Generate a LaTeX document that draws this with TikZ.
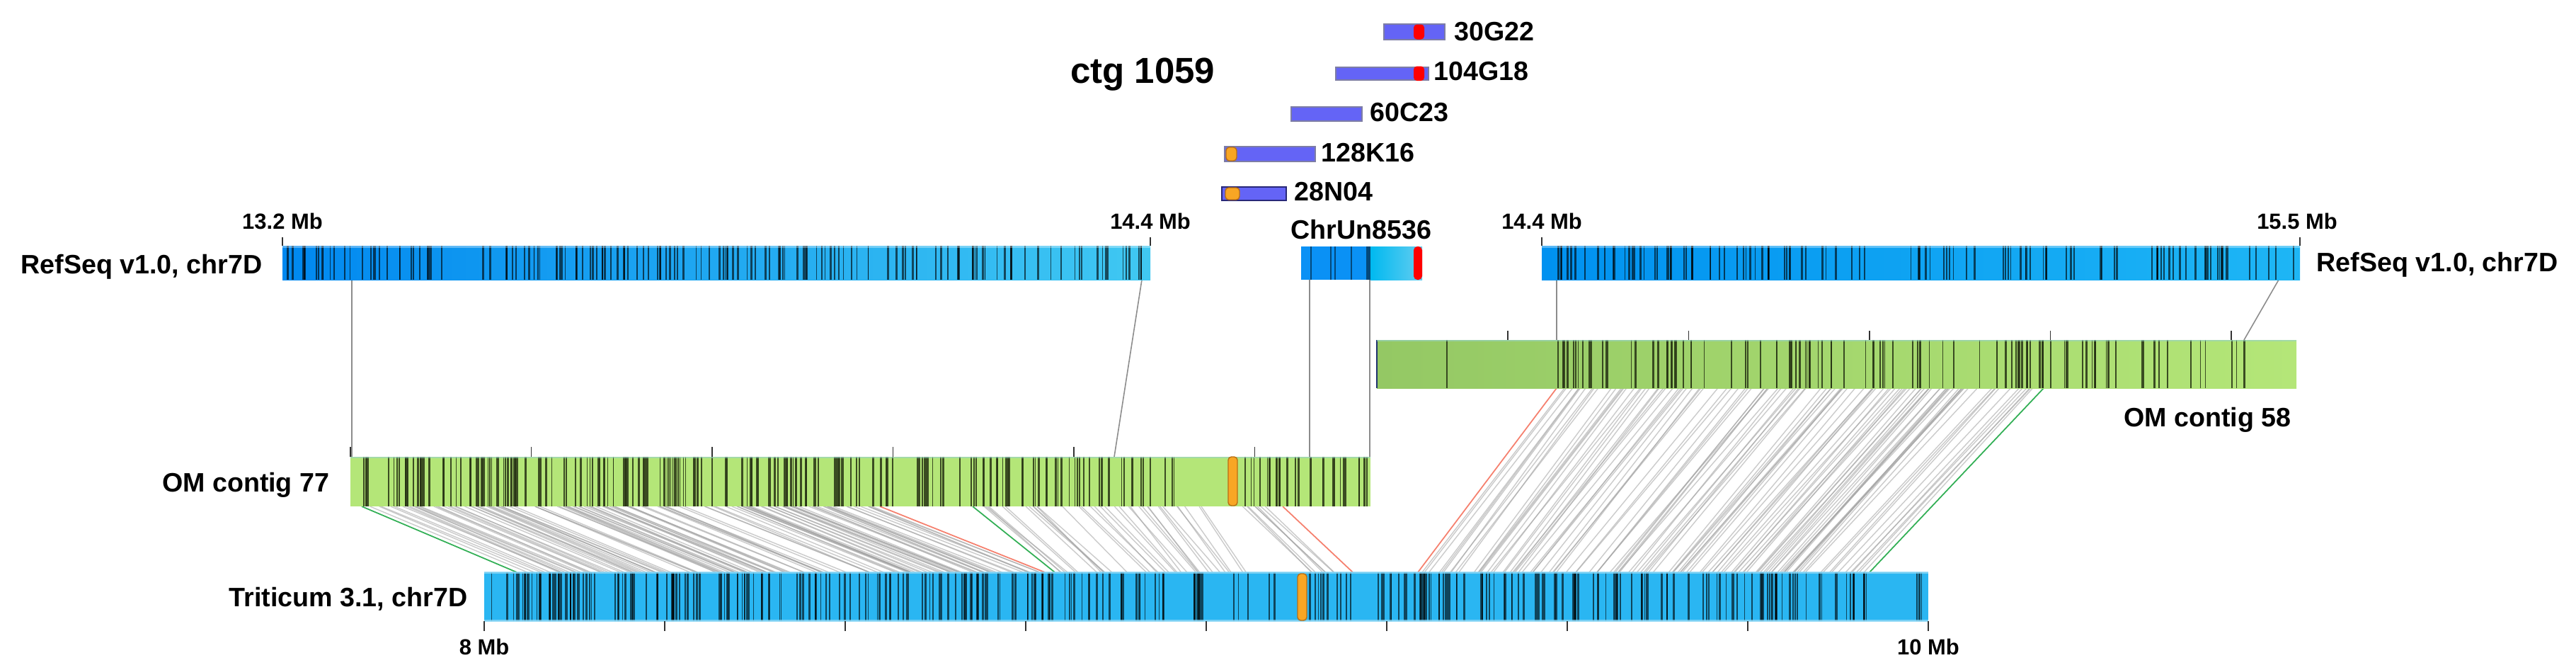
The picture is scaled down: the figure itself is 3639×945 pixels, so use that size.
\documentclass[tikz,border=0pt]{standalone}
\usepackage{fontspec}
\setmainfont{Liberation Sans}
\definecolor{refL}{RGB}{0,136,240}
\definecolor{refR}{RGB}{64,200,242}
\definecolor{refbL}{RGB}{0,145,240}
\definecolor{refbR}{RGB}{30,182,245}
\definecolor{unL}{RGB}{10,145,245}
\definecolor{unM}{RGB}{0,185,240}
\definecolor{unR}{RGB}{100,205,240}
\definecolor{omL}{RGB}{148,200,100}
\definecolor{omG}{RGB}{180,230,120}
\definecolor{omtop}{RGB}{150,210,200}
\definecolor{tri}{RGB}{42,182,242}
\definecolor{triedge}{RGB}{140,215,245}
\definecolor{bac}{RGB}{100,100,246}
\definecolor{bacedge}{RGB}{125,125,165}
\definecolor{bacnavy}{RGB}{40,40,120}
\definecolor{hitorange}{RGB}{248,166,36}
\definecolor{hitorangedark}{RGB}{185,110,20}
\definecolor{mapgray}{RGB}{160,160,160}
\definecolor{mapred}{RGB}{245,128,110}
\definecolor{mapgreen}{RGB}{50,175,85}
\definecolor{omstripecol}{RGB}{38,50,20}
\definecolor{connectcol}{RGB}{140,140,140}
\definecolor{navyedge}{RGB}{30,50,110}

\newcommand\mystripes[6]{%
  \foreach \k in {1,...,#4}{%
    \pgfmathsetmacro\sx{#2+rnd*(#3-#2)}%
    \pgfmathsetmacro\sw{0.3+rnd*0.55}%
    \draw[#1,line width=\sw pt] (\sx,#5)--(\sx,#6);}}

\newcommand\mymaplines[7]{%
  \foreach \k in {1,...,#5}{%
    \pgfmathsetmacro\uu{rnd}%
    \pgfmathsetmacro\tx{#1+\uu*(#2-#1)}%
    \pgfmathsetmacro\bx{#3+\uu*(#4-#3)+(rnd-0.5)*16}%
    \draw[mapline] (\tx,#6)--(\bx,#7);}}

\begin{document}
\begin{tikzpicture}[x=0.01cm,y=-0.01cm,
  lbl/.style={font=\bfseries\fontsize{10.7}{12}\selectfont,inner sep=0pt},
  ticklbl/.style={font=\bfseries\fontsize{8.8}{10}\selectfont,inner sep=0pt},
  tickmark/.style={line width=0.5pt,black!80},
  bluestripe/.style={black,opacity=0.62},
  greenstripe/.style={omstripecol,opacity=0.85},
  mapline/.style={mapgray,line width=0.4pt,opacity=0.55},
  connector/.style={connectcol,line width=0.45pt},
  bacbar/.style={fill=bac,draw=bacedge,line width=0.5pt},
  redmark/.style={fill=red,rounded corners=1.3pt},
  orangemark/.style={fill=hitorange,draw=hitorangedark,line width=0.4pt,rounded corners=1.3pt},
  rededge/.style={mapred,line width=0.5pt},
  greenedge/.style={mapgreen,line width=0.5pt}]
\useasboundingbox (0,0) rectangle (3639,945);
\pgfmathsetseed{1059}

% ---------- mapping lines OM -> Triticum ----------
\mymaplines{520}{1235}{738}{1468}{130}{715}{808}
\mymaplines{1385}{1700}{1495}{1765}{35}{715}{808}
\mymaplines{1755}{1808}{1852}{1905}{8}{715}{808}
\mymaplines{2205}{2880}{2010}{2635}{115}{548}{808}
\coordinate (g1t) at (511,715);  \coordinate (g1b) at (730,808);
\coordinate (r1t) at (1243,715); \coordinate (r1b) at (1476,808);
\coordinate (g2t) at (1374,715); \coordinate (g2b) at (1490,808);
\coordinate (r3t) at (1812,715); \coordinate (r3b) at (1911,808);
\coordinate (r4t) at (2199,548); \coordinate (r4b) at (2003,808);
\coordinate (g4t) at (2887,548); \coordinate (g4b) at (2641,808);
\draw[greenedge] (g1t) -- (g1b);
\draw[rededge] (r1t) -- (r1b);
\draw[greenedge] (g2t) -- (g2b);
\draw[rededge] (r3t) -- (r3b);
\draw[rededge] (r4t) -- (r4b);
\draw[greenedge] (g4t) -- (g4b);

% ---------- connectors RefSeq -> OM ----------
\coordinate (c1a) at (497,395);  \coordinate (c1b) at (497,645);
\coordinate (c2a) at (1613,395); \coordinate (c2b) at (1574,645);
\coordinate (c3a) at (1850,395); \coordinate (c3b) at (1850,645);
\coordinate (c4a) at (1935,395); \coordinate (c4b) at (1935,645);
\coordinate (c5a) at (2199,395); \coordinate (c5b) at (2199,480);
\coordinate (c6a) at (3219,395); \coordinate (c6b) at (3170,480);
\foreach \a/\b in {c1a/c1b,c2a/c2b,c3a/c3b,c4a/c4b,c5a/c5b,c6a/c6b}
  \draw[connector] (\a) -- (\b);

% ---------- title ----------
\node[font=\bfseries\fontsize{14.5}{16}\selectfont,anchor=base east,inner sep=0pt] (title) at (1717,117) {ctg 1059};

% ---------- BAC clones ----------
\draw[bacbar] (1955,34) rectangle (2041,56);
\fill[redmark] (1997,34.5) rectangle (2012,55.5);
\node[lbl,anchor=base west] (b1) at (2054,57) {30G22};
\draw[bacbar] (1887,95) rectangle (2018,113);
\fill[redmark] (1997,93.5) rectangle (2012,114);
\node[lbl,anchor=base west] (b2) at (2025,113) {104G18};
\draw[bacbar] (1824,151) rectangle (1924,171);
\node[lbl,anchor=base west] (b3) at (1935,171) {60C23};
\draw[bacbar] (1730,207) rectangle (1858,228);
\draw[orangemark] (1732,208) rectangle (1747,227);
\node[lbl,anchor=base west] (b4) at (1866,228) {128K16};
\draw[bacbar,draw=bacnavy] (1726,264) rectangle (1817,283);
\draw[orangemark] (1731,265) rectangle (1751,282);
\node[lbl,anchor=base west] (b5) at (1828,283) {28N04};

% ---------- RefSeq left ----------
\shade[left color=refL,right color=refR] (399,347) rectangle (1625,395);
\mystripes{bluestripe}{405}{640}{28}{347}{395}
\mystripes{bluestripe}{680}{1210}{78}{347}{395}
\mystripes{bluestripe}{1210}{1620}{45}{347}{395}
\draw[white,opacity=0.35,line width=0.8pt] (399,348.5) -- (1625,348.5);
\draw[tickmark] (399,335) -- (399,347);
\draw[tickmark] (1625,335) -- (1625,347);
\node[ticklbl,anchor=base] (t1) at (399,323) {13.2 Mb};
\node[ticklbl,anchor=base] (t2) at (1625,323) {14.4 Mb};
\node[lbl,anchor=base east] (lrs1) at (371,386) {RefSeq v1.0, chr7D};

% ---------- ChrUn8536 ----------
\fill[unL] (1838,348) rectangle (1936,395);
\shade[left color=unM,right color=unR] (1936,348) rectangle (2009,395);
\foreach \xx/\ww in {1852/0.6,1880/0.6,1886/0.6,1909/0.6,1933/1.6}
  \draw[bluestripe,opacity=0.5,line width=\ww pt] (\xx,348) -- (\xx,395);
\fill[red,rounded corners=1.5pt] (1997,348) rectangle (2009,395);
\node[lbl,anchor=base] (un) at (1923,337) {ChrUn8536};

% ---------- RefSeq right ----------
\shade[left color=refbL,right color=refbR] (2178,347) rectangle (3249,395);
\mystripes{bluestripe}{2195}{2600}{52}{347}{395}
\mystripes{bluestripe}{2610}{2700}{4}{347}{395}
\mystripes{bluestripe}{2700}{3000}{30}{347}{395}
\mystripes{bluestripe}{3000}{3245}{26}{347}{395}
\draw[white,opacity=0.35,line width=0.8pt] (2178,348.5) -- (3249,348.5);
\draw[tickmark] (2178,335) -- (2178,347);
\draw[tickmark] (3249,335) -- (3249,347);
\node[ticklbl,anchor=base] (t3) at (2178,323) {14.4 Mb};
\node[ticklbl,anchor=base] (t4) at (3245,323) {15.5 Mb};
\node[lbl,anchor=base west] (lrs2) at (3272,383) {RefSeq v1.0, chr7D};

% ---------- OM contig 58 ----------
\shade[left color=omL,right color=omG] (1945,480) rectangle (3244,548);
\draw[greenstripe,line width=0.7pt] (2044,480) -- (2044,548);
\mystripes{greenstripe}{2198}{2560}{45}{480}{548}
\mystripes{greenstripe}{2560}{2900}{35}{480}{548}
\mystripes{greenstripe}{2900}{3177}{25}{480}{548}
\draw[navyedge,line width=0.6pt] (1945,480) -- (1945,548);
\draw[omtop,opacity=0.6,line width=0.8pt] (1945,481) -- (3244,481);
\foreach \xx in {2130,2385.5,2641,2896.5,3152}
  \draw[tickmark] (\xx,467) -- (\xx,480);
\node[lbl,anchor=base east] (om58) at (3237,602) {OM contig 58};

% ---------- OM contig 77 ----------
\fill[omG] (495,645) rectangle (1936,715);
\mystripes{greenstripe}{497}{1200}{130}{645}{715}
\mystripes{greenstripe}{1200}{1662}{60}{645}{715}
\mystripes{greenstripe}{1752}{1934}{30}{645}{715}
\draw[omtop,opacity=0.6,line width=0.8pt] (495,646) -- (1936,646);
\draw[orangemark] (1735,645) rectangle (1748,714);
\foreach \xx in {495,750.5,1006,1261.5,1517,1772.5}
  \draw[tickmark] (\xx,631) -- (\xx,645);
\node[lbl,anchor=base east] (om77) at (466,694) {OM contig 77};

% ---------- Triticum ----------
\fill[tri] (684,808) rectangle (2724,877);
\mystripes{bluestripe}{686}{1200}{95}{808}{877}
\mystripes{bluestripe}{1200}{1700}{80}{808}{877}
\mystripes{bluestripe}{1705}{1830}{5}{808}{877}
\mystripes{bluestripe}{1848}{2250}{65}{808}{877}
\mystripes{bluestripe}{2250}{2640}{60}{808}{877}
\mystripes{bluestripe}{2698}{2716}{3}{808}{877}
\draw[triedge,opacity=0.8,line width=0.9pt] (684,808.5) -- (2724,808.5);
\draw[triedge,opacity=0.8,line width=0.9pt] (684,876.5) -- (2724,876.5);
\draw[orangemark] (1833,810) rectangle (1846,876);
\foreach \k in {0,...,8}
  \draw[tickmark] ({684+255*\k},877) -- ({684+255*\k},891);
\node[ticklbl,anchor=base] (t8) at (684,924) {8 Mb};
\node[ticklbl,anchor=base] (t10) at (2724,924) {10 Mb};
\node[lbl,anchor=base east] (tri) at (661,856) {Triticum 3.1, chr7D};
\end{tikzpicture}
\end{document}
